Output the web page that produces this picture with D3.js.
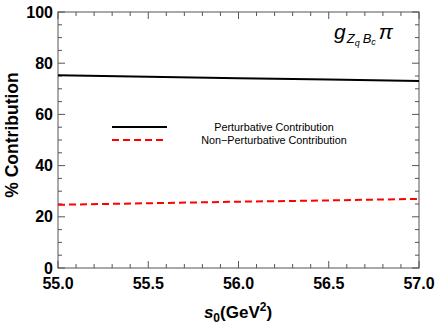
<!DOCTYPE html>
<html>
<head>
<meta charset="utf-8">
<script src="https://cdn.jsdelivr.net/npm/d3@7"></script>
<style>
  body { margin: 0; background: #fff; }
  svg text { font-family: "Liberation Sans", Arial, sans-serif; }
</style>
</head>
<body>
<svg id="chart" width="436" height="327"></svg>
<script>
// s0 values (GeV^2) and the two contributions in percent
const s0 = [55.0, 55.5, 56.0, 56.5, 57.0];
const perturbative = [75.3, 74.7, 74.1, 73.6, 73.0];
const nonPerturbative = [24.7, 25.3, 25.9, 26.4, 27.0];
const xTicks = [55.0, 55.5, 56.0, 56.5, 57.0];
const yTicks = [0, 20, 40, 60, 80, 100];
const legendLabels = ["Perturbative Contribution", "Non\u2212Perturbative Contribution"];

const svg = d3.select("#chart");
const plotL = 58, plotR = 419, plotT = 12, plotB = 268;

const x = d3.scaleLinear().domain([55, 57]).range([plotL, plotR]);
const y = d3.scaleLinear().domain([0, 100]).range([plotB, plotT]);

// frame
svg.append("rect")
  .attr("x", plotL).attr("y", plotT)
  .attr("width", plotR - plotL).attr("height", plotB - plotT)
  .attr("fill", "none").attr("stroke", "#555").attr("stroke-width", 1);

// ticks on all four sides, pointing inwards
const xMinor = d3.range(55, 57.0001, 0.1);
const yMinor = d3.range(0, 100.0001, 5);

function isMajorX(v) { return xTicks.some(t => Math.abs(t - v) < 1e-6); }
function isMajorY(v) { return yTicks.some(t => Math.abs(t - v) < 1e-6); }

xMinor.forEach(v => {
  const len = isMajorX(v) ? 7 : 4;
  svg.append("line").attr("x1", x(v)).attr("x2", x(v))
    .attr("y1", plotB).attr("y2", plotB - len)
    .attr("stroke", "#555");
  svg.append("line").attr("x1", x(v)).attr("x2", x(v))
    .attr("y1", plotT).attr("y2", plotT + len)
    .attr("stroke", "#555");
});
yMinor.forEach(v => {
  const len = isMajorY(v) ? 7 : 4;
  svg.append("line").attr("x1", plotL).attr("x2", plotL + len)
    .attr("y1", y(v)).attr("y2", y(v))
    .attr("stroke", "#555");
  svg.append("line").attr("x1", plotR).attr("x2", plotR - len)
    .attr("y1", y(v)).attr("y2", y(v))
    .attr("stroke", "#555");
});

// tick labels
xTicks.forEach(v => {
  svg.append("text")
    .attr("x", x(v)).attr("y", 289)
    .attr("text-anchor", "middle")
    .style("font-size", "16px").style("font-weight", "bold")
    .text(v.toFixed(1));
});
yTicks.forEach(v => {
  svg.append("text")
    .attr("x", 53).attr("y", y(v) + 5.5)
    .attr("text-anchor", "end")
    .style("font-size", "16px").style("font-weight", "bold")
    .text(v);
});

// axis titles
svg.append("text")
  .attr("transform", "translate(18,135) rotate(-90)")
  .attr("text-anchor", "middle")
  .style("font-size", "17.5px").style("font-weight", "bold")
  .text("% Contribution");

const xt = svg.append("text")
  .attr("x", 238).attr("y", 318)
  .attr("text-anchor", "middle")
  .style("font-size", "17px").style("font-weight", "bold");
xt.append("tspan").style("font-style", "italic").text("s");
xt.append("tspan").attr("dy", 4).style("font-size", "12px").text("0");
xt.append("tspan").attr("dy", -4).text("(GeV");
xt.append("tspan").attr("dy", -7).style("font-size", "12px").text("2");
xt.append("tspan").attr("dy", 7).text(")");

// curves
const line = d3.line().x(d => x(d[0])).y(d => y(d[1]));

svg.append("path")
  .datum(s0.map((s, i) => [s, perturbative[i]]))
  .attr("d", line)
  .attr("fill", "none").attr("stroke", "#000").attr("stroke-width", 2);

svg.append("path")
  .datum(s0.map((s, i) => [s, nonPerturbative[i]]))
  .attr("d", line)
  .attr("fill", "none").attr("stroke", "#f00").attr("stroke-width", 2)
  .attr("stroke-dasharray", "7,4");

// legend
svg.append("line").attr("x1", 112).attr("x2", 167).attr("y1", 127).attr("y2", 127)
  .attr("stroke", "#000").attr("stroke-width", 2);
svg.append("line").attr("x1", 112).attr("x2", 167).attr("y1", 140).attr("y2", 140)
  .attr("stroke", "#f00").attr("stroke-width", 2).attr("stroke-dasharray", "7,4");
legendLabels.forEach((t, i) => {
  svg.append("text")
    .attr("x", 274).attr("y", 130.5 + i * 13)
    .attr("text-anchor", "middle")
    .style("font-size", "10.8px")
    .text(t);
});

// coupling label
const g = svg.append("text")
  .attr("x", 334).attr("y", 39)
  .style("font-size", "21px").style("font-style", "italic");
g.append("tspan").text("g");
g.append("tspan").attr("dy", 4).attr("dx", 1).style("font-size", "13px").text("Z");
g.append("tspan").attr("dy", 3).style("font-size", "9px").text("q");
g.append("tspan").attr("dy", -3).attr("dx", 3).style("font-size", "13px").text("B");
g.append("tspan").attr("dy", 2).style("font-size", "9px").text("c");
g.append("tspan").attr("dy", -6).attr("dx", 3).text("\u03c0");
</script>
</body>
</html>
